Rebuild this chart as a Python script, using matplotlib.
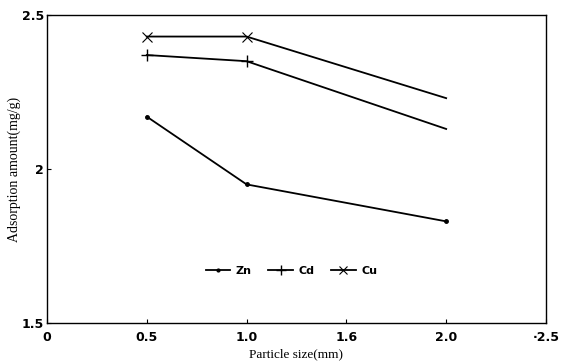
import matplotlib
matplotlib.use("Agg")
import matplotlib.pyplot as plt

# data
sizes = [0.5, 1.0, 2.0]
zn = [2.17, 1.95, 1.83]
cd = [2.37, 2.35, 2.13]
cu = [2.43, 2.43, 2.23]

xticks = [0, 0.5, 1.0, 1.5, 2.0, 2.5]
xtick_labels = ["0", "0.5", "1.0", "1.6", "2.0", "·2.5"]
yticks = [1.5, 2.0, 2.5]
ytick_labels = ["1.5", "2", "2.5"]

fig = plt.figure(figsize=(5.64, 3.62), dpi=100)
ax = fig.add_axes([0.0833, 0.1077, 0.8847, 0.8509])

ax.plot(sizes, zn, color="black", lw=1.3, marker="o", ms=2.5, label="Zn")
ax.plot(sizes, cd, color="black", lw=1.3, marker="+", ms=9, mew=1.0,
        markevery=[0, 1], label="Cd")
ax.plot(sizes, cu, color="black", lw=1.3, marker="x", ms=7, mew=0.8,
        markevery=[0, 1], label="Cu")

ax.set_xlim(0, 2.5)
ax.set_ylim(1.5, 2.5)
ax.set_xticks(xticks)
ax.set_xticklabels(xtick_labels, fontsize=9, fontweight="bold")
ax.set_yticks(yticks)
ax.set_yticklabels(ytick_labels, fontsize=9, fontweight="bold")
ax.tick_params(axis="x", direction="in", length=3, width=0.8, pad=6)
ax.tick_params(axis="y", direction="in", length=3, width=0.8, pad=2)

for s in ax.spines.values():
    s.set_linewidth(1.0)

ax.set_xlabel("Particle size(mm)", fontsize=9.5, family="Liberation Serif", labelpad=3)
ax.set_ylabel("Adsorption amount(mg/g)", fontsize=10, family="Liberation Serif", labelpad=1)

leg = ax.legend(loc="center", bbox_to_anchor=(0.49, 0.17), ncol=3, frameon=False,
                handlelength=2.2, columnspacing=1.5, handletextpad=0.5,
                markerscale=0.8, prop={"size": 8, "weight": "bold"})

fig.savefig("out.png", dpi=100)
